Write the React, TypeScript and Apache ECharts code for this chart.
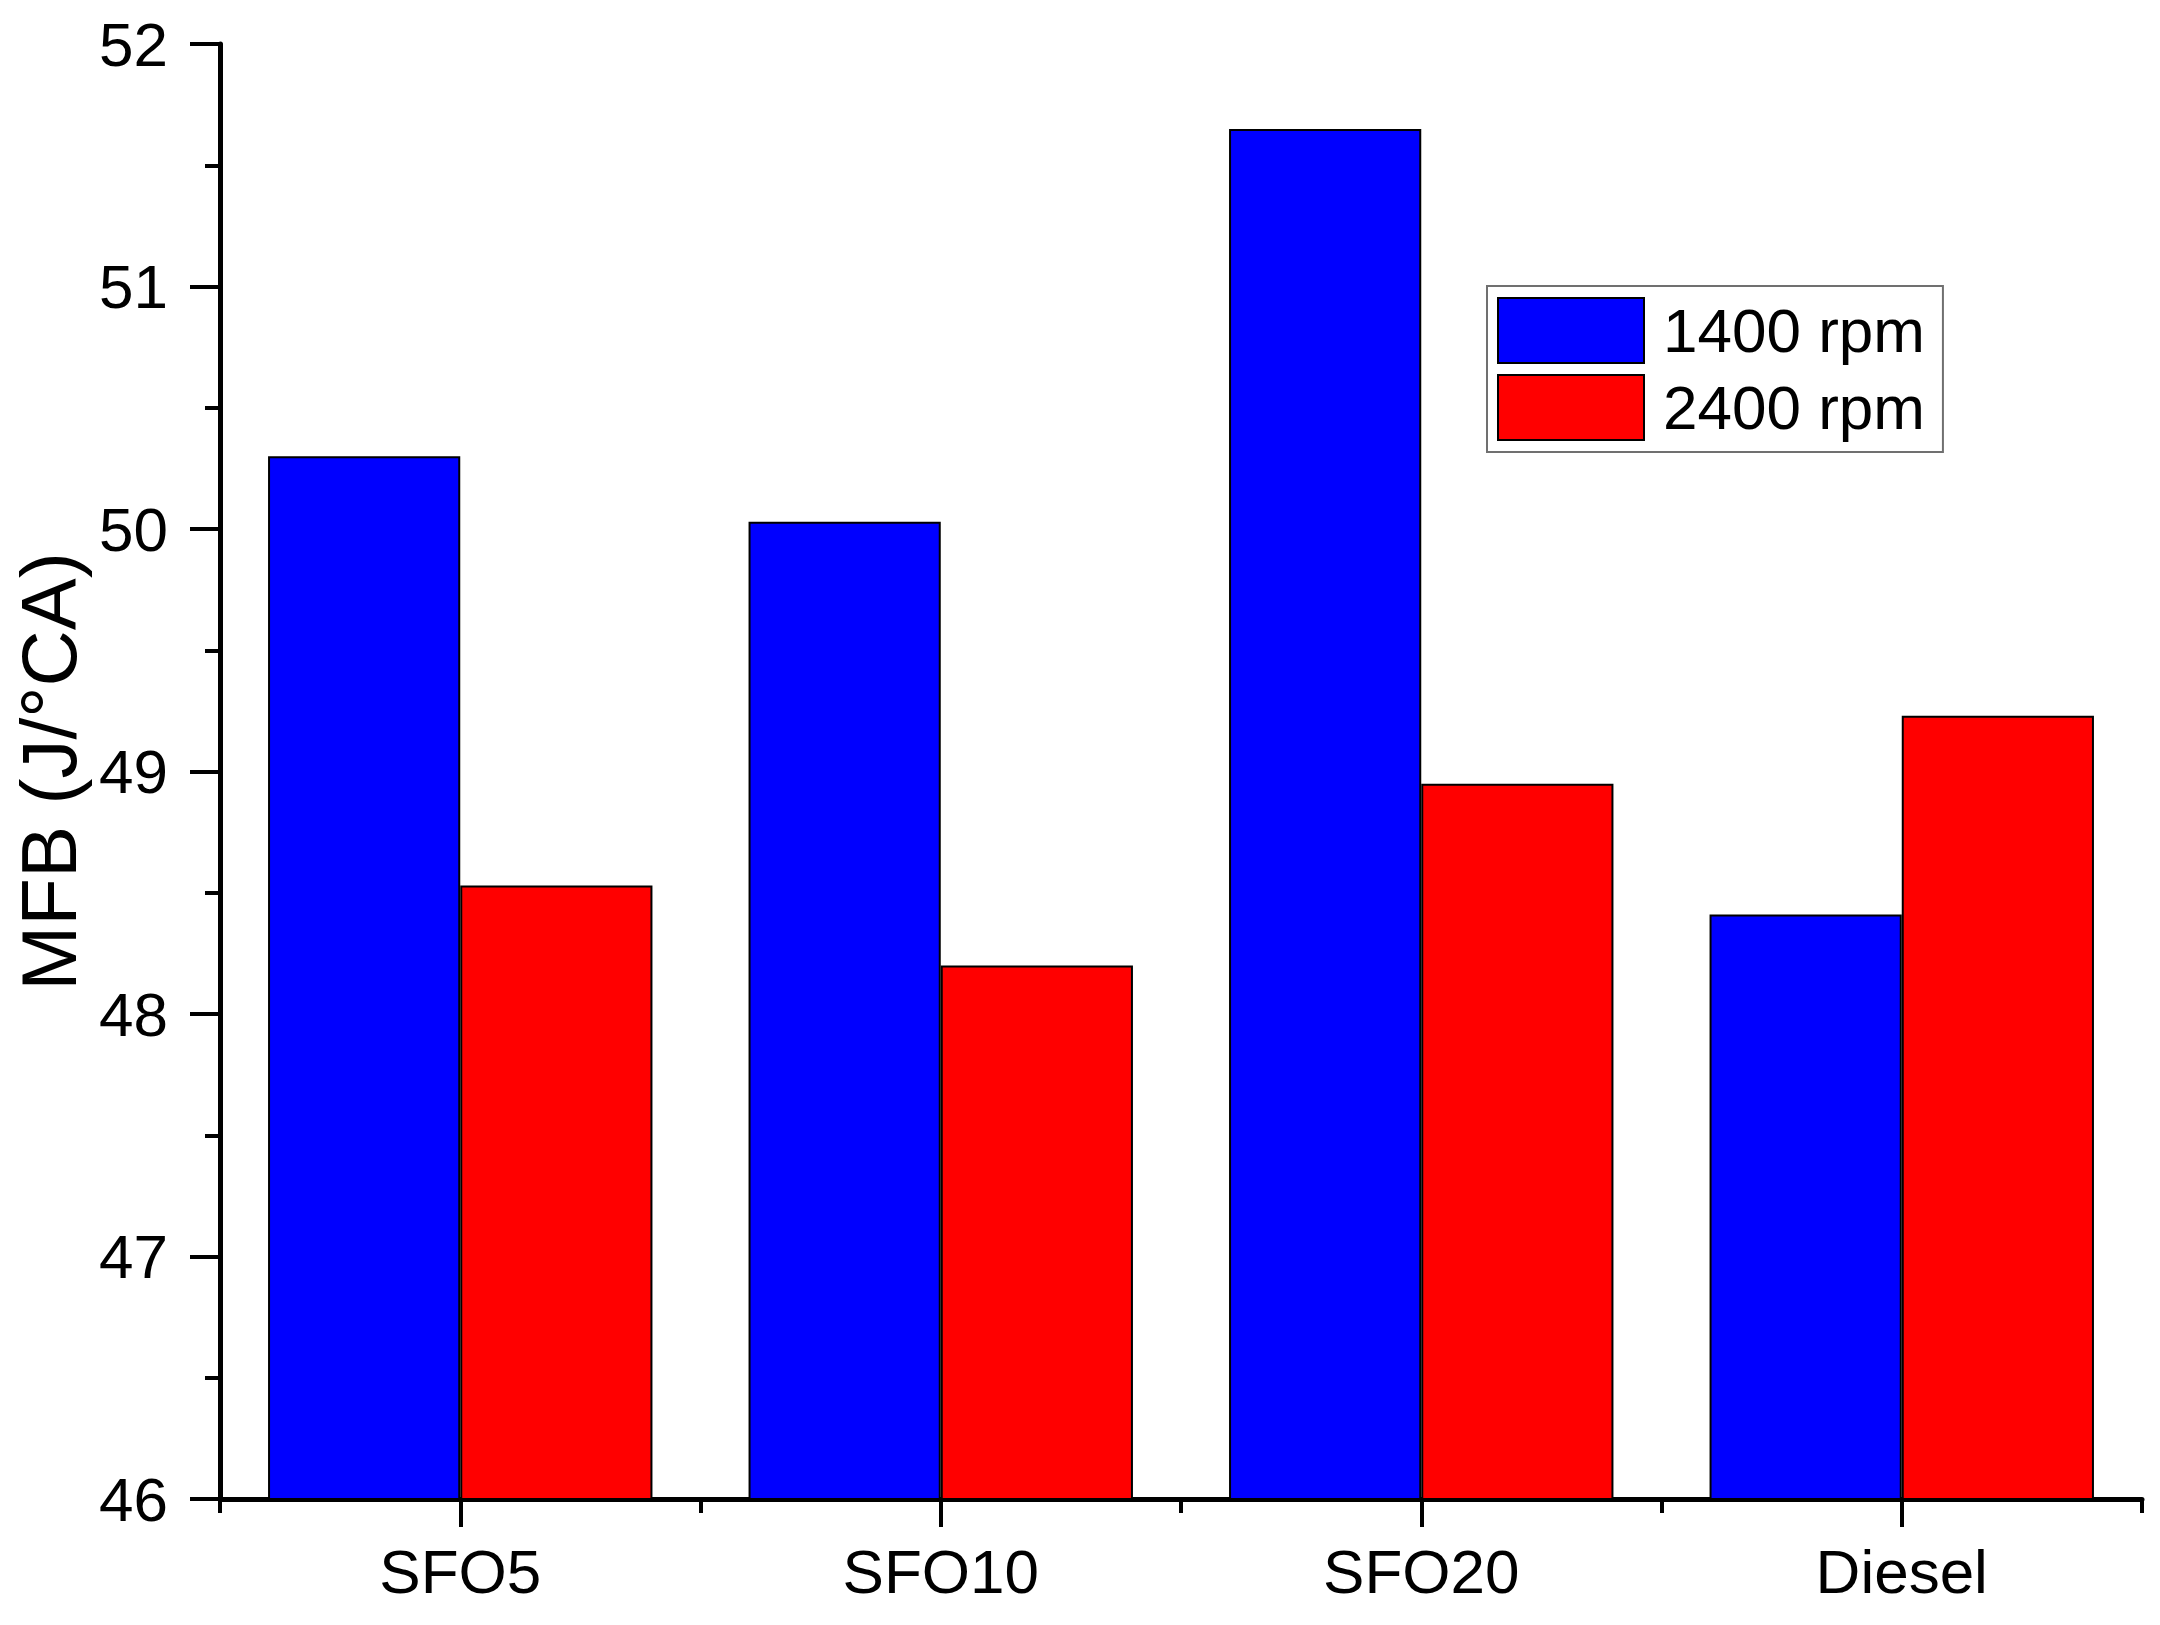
import React, { useEffect, useRef } from 'react';
import * as echarts from 'echarts';

const categories = ['SFO5', 'SFO10', 'SFO20', 'Diesel'];
const seriesNames = ['1400 rpm', '2400 rpm'];
const rpm1400 = [50.3, 50.03, 51.65, 48.41];
const rpm2400 = [48.53, 48.2, 48.95, 49.23];
const yMin = 46;
const yMax = 52;
const yStep = 1;
const yTitle = 'MFB (J/°CA)';

const FONT = '"Liberation Sans", Arial, Helvetica, sans-serif';

export default function App() {
  const ref = useRef<HTMLDivElement>(null);

  useEffect(() => {
    if (!ref.current) return;
    const chart = echarts.init(ref.current, null, { renderer: 'svg' });
    chart.setOption({
      animation: false,
      backgroundColor: '#ffffff',
      textStyle: { fontFamily: FONT },
      grid: { left: 220, right: 18, top: 44, bottom: 126, containLabel: false },
      legend: {
        show: true,
        orient: 'vertical',
        left: 1487,
        top: 286,
        data: seriesNames,
        icon: 'rect',
        itemWidth: 146,
        itemHeight: 65,
        itemGap: 10,
        padding: [11, 18, 11, 10],
        borderColor: '#707070',
        borderWidth: 2,
        backgroundColor: '#ffffff',
        textStyle: { fontSize: 62, color: '#000', fontFamily: FONT, padding: [0, 0, 0, 14] },
      },
      xAxis: [
        {
          type: 'category',
          data: categories,
          boundaryGap: true,
          axisLine: { show: true, lineStyle: { color: '#000', width: 5 } },
          axisTick: { show: true, length: 14, lineStyle: { color: '#000', width: 4 } },
          axisLabel: { fontSize: 62, color: '#000', margin: 41, fontFamily: FONT },
          splitLine: { show: false },
        },
        {
          type: 'category',
          data: categories,
          position: 'bottom',
          boundaryGap: true,
          axisLine: { show: false },
          axisTick: { show: true, alignWithLabel: true, length: 28, lineStyle: { color: '#000', width: 4 } },
          axisLabel: { show: false },
          splitLine: { show: false },
        },
      ],
      yAxis: {
        type: 'value',
        min: yMin,
        max: yMax,
        interval: yStep,
        name: yTitle,
        nameLocation: 'middle',
        nameGap: 116,
        nameTextStyle: { fontSize: 78, color: '#000', fontFamily: FONT },
        axisLine: { show: true, lineStyle: { color: '#000', width: 5 } },
        axisTick: { show: true, length: 30, lineStyle: { color: '#000', width: 4 } },
        minorTick: { show: true, splitNumber: 2, length: 15, lineStyle: { color: '#000', width: 4 } },
        axisLabel: { fontSize: 62, color: '#000', margin: 52, fontFamily: FONT },
        splitLine: { show: false },
      },
      series: [
        {
          name: seriesNames[0],
          type: 'bar',
          xAxisIndex: 0,
          data: rpm1400,
          barGap: '0%',
          barCategoryGap: '20%',
          itemStyle: { color: '#0000ff', borderColor: '#000', borderWidth: 2 },
        },
        {
          name: seriesNames[1],
          type: 'bar',
          xAxisIndex: 0,
          data: rpm2400,
          barGap: '0%',
          barCategoryGap: '20%',
          itemStyle: { color: '#ff0000', borderColor: '#000', borderWidth: 2 },
        },
      ],
    });
    return () => {
      chart.dispose();
    };
  }, []);

  return (
    <div
      ref={ref}
      style={{ position: 'absolute', left: 0, top: 0, width: 2160, height: 1625, background: '#fff' }}
    />
  );
}
